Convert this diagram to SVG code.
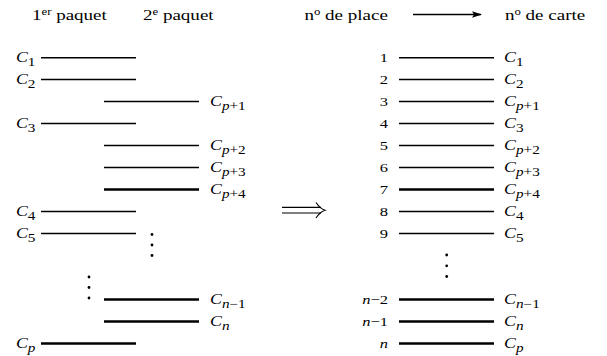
<svg xmlns="http://www.w3.org/2000/svg" width="607" height="356" viewBox="0 0 607 356">
<style>
text{font-family:"Liberation Serif","Times New Roman",serif;fill:#000}
.h{font-size:15px}
.sup{font-size:10px}
.c{font-size:14px;font-style:italic}
.sub{font-size:12px}
.i{font-style:italic}
.u{font-style:normal}
.num{font-size:13px;text-anchor:end}
.ln{stroke:#000;stroke-width:1.6}
.lk{stroke:#000;stroke-width:2.4}
.dot{fill:#000}
</style>
<defs>
<marker id="ah" markerWidth="10" markerHeight="8" refX="9" refY="4" orient="auto" markerUnits="userSpaceOnUse">
<path d="M0,0.8 L10,4 L0,7.2 L2,4 Z" fill="#000"/>
</marker>
</defs>
<rect width="607" height="356" fill="#fff"/>
<g id="headers" transform="scale(1.27,1)">
<text class="h" x="25.2" y="20">1<tspan class="sup" dy="-5">er</tspan><tspan dy="5"> paquet</tspan></text>
<text class="h" x="112.6" y="20">2<tspan class="sup" dy="-5">e</tspan><tspan dy="5"> paquet</tspan></text>
<text class="h" x="305.5" y="20" text-anchor="end">n<tspan class="sup" dy="-5">o</tspan><tspan dy="5"> de place</tspan></text>
<text class="h" x="397.6" y="20">n<tspan class="sup" dy="-5">o</tspan><tspan dy="5"> de carte</tspan></text>
</g>
<g id="connectors">
<line x1="413" y1="14.5" x2="481" y2="14.5" stroke="#000" stroke-width="1.3" marker-end="url(#ah)"/>
<line class="ln" x1="41" y1="57.7" x2="136" y2="57.7"/>
<line class="ln" x1="41" y1="79.5" x2="136" y2="79.5"/>
<line class="ln" x1="104" y1="101.5" x2="199" y2="101.5"/>
<line class="ln" x1="41" y1="123.5" x2="136" y2="123.5"/>
<line class="ln" x1="104" y1="145.5" x2="199" y2="145.5"/>
<line class="ln" x1="104" y1="167.5" x2="199" y2="167.5"/>
<line class="lk" x1="104" y1="189.5" x2="199" y2="189.5"/>
<line class="ln" x1="41" y1="211.5" x2="136" y2="211.5"/>
<line class="ln" x1="41" y1="233.5" x2="136" y2="233.5"/>
<line class="lk" x1="104" y1="299.5" x2="199" y2="299.5"/>
<line class="lk" x1="104" y1="321.5" x2="199" y2="321.5"/>
<line class="lk" x1="41" y1="343.5" x2="136" y2="343.5"/>
<line class="ln" x1="399" y1="57.7" x2="494" y2="57.7"/>
<line class="ln" x1="399" y1="79.5" x2="494" y2="79.5"/>
<line class="ln" x1="399" y1="101.5" x2="494" y2="101.5"/>
<line class="ln" x1="399" y1="123.5" x2="494" y2="123.5"/>
<line class="ln" x1="399" y1="145.5" x2="494" y2="145.5"/>
<line class="ln" x1="399" y1="167.5" x2="494" y2="167.5"/>
<line class="lk" x1="399" y1="189.5" x2="494" y2="189.5"/>
<line class="ln" x1="399" y1="211.5" x2="494" y2="211.5"/>
<line class="ln" x1="399" y1="233.5" x2="494" y2="233.5"/>
<line class="lk" x1="399" y1="299.5" x2="494" y2="299.5"/>
<line class="lk" x1="399" y1="321.5" x2="494" y2="321.5"/>
<line class="lk" x1="399" y1="343.5" x2="494" y2="343.5"/>
</g>
<g id="left-labels" transform="scale(1.27,1)">
<text class="c" x="12.6" y="62.3">C<tspan class="sub u" dy="4">1</tspan></text>
<text class="c" x="12.6" y="84.1">C<tspan class="sub u" dy="4">2</tspan></text>
<text class="c" x="165.4" y="106.1">C<tspan class="sub" dy="4">p</tspan><tspan class="sub u">+1</tspan></text>
<text class="c" x="12.6" y="128.1">C<tspan class="sub u" dy="4">3</tspan></text>
<text class="c" x="165.4" y="150.1">C<tspan class="sub" dy="4">p</tspan><tspan class="sub u">+2</tspan></text>
<text class="c" x="165.4" y="172.1">C<tspan class="sub" dy="4">p</tspan><tspan class="sub u">+3</tspan></text>
<text class="c" x="165.4" y="194.1">C<tspan class="sub" dy="4">p</tspan><tspan class="sub u">+4</tspan></text>
<text class="c" x="12.6" y="216.1">C<tspan class="sub u" dy="4">4</tspan></text>
<text class="c" x="12.6" y="238.1">C<tspan class="sub u" dy="4">5</tspan></text>
<text class="c" x="165.4" y="304.1">C<tspan class="sub" dy="4">n</tspan><tspan class="sub u">−1</tspan></text>
<text class="c" x="165.4" y="326.1">C<tspan class="sub" dy="4">n</tspan></text>
<text class="c" x="12.6" y="348.1">C<tspan class="sub" dy="4">p</tspan></text>
</g>
<g id="left-dots">
<circle class="dot" cx="152" cy="234.5" r="1.4"/>
<circle class="dot" cx="152" cy="245" r="1.4"/>
<circle class="dot" cx="152" cy="255.5" r="1.4"/>
<circle class="dot" cx="89" cy="277" r="1.4"/>
<circle class="dot" cx="89" cy="287.5" r="1.4"/>
<circle class="dot" cx="89" cy="298" r="1.4"/>
</g>
<g id="implies">
<path d="M282,207.3 H321 M282,213 H321" stroke="#000" stroke-width="1.2" fill="none"/>
<path d="M316,202.5 Q320,208.5 325,210.2 Q320,211.8 316,218" stroke="#000" stroke-width="1.2" fill="none"/>
</g>
<g id="right-numbers" transform="scale(1.27,1)">
<text class="num" x="305.5" y="62.2">1</text>
<text class="num" x="305.5" y="84">2</text>
<text class="num" x="305.5" y="106">3</text>
<text class="num" x="305.5" y="128">4</text>
<text class="num" x="305.5" y="150">5</text>
<text class="num" x="305.5" y="172">6</text>
<text class="num" x="305.5" y="194">7</text>
<text class="num" x="305.5" y="216">8</text>
<text class="num" x="305.5" y="238">9</text>
<text class="num" x="305.5" y="304"><tspan class="i">n</tspan>−2</text>
<text class="num" x="305.5" y="326"><tspan class="i">n</tspan>−1</text>
<text class="num i" x="305.5" y="348">n</text>
</g>
<g id="right-labels" transform="scale(1.27,1)">
<text class="c" x="396.9" y="62.3">C<tspan class="sub u" dy="4">1</tspan></text>
<text class="c" x="396.9" y="84.1">C<tspan class="sub u" dy="4">2</tspan></text>
<text class="c" x="396.9" y="106.1">C<tspan class="sub" dy="4">p</tspan><tspan class="sub u">+1</tspan></text>
<text class="c" x="396.9" y="128.1">C<tspan class="sub u" dy="4">3</tspan></text>
<text class="c" x="396.9" y="150.1">C<tspan class="sub" dy="4">p</tspan><tspan class="sub u">+2</tspan></text>
<text class="c" x="396.9" y="172.1">C<tspan class="sub" dy="4">p</tspan><tspan class="sub u">+3</tspan></text>
<text class="c" x="396.9" y="194.1">C<tspan class="sub" dy="4">p</tspan><tspan class="sub u">+4</tspan></text>
<text class="c" x="396.9" y="216.1">C<tspan class="sub u" dy="4">4</tspan></text>
<text class="c" x="396.9" y="238.1">C<tspan class="sub u" dy="4">5</tspan></text>
<text class="c" x="396.9" y="304.1">C<tspan class="sub" dy="4">n</tspan><tspan class="sub u">−1</tspan></text>
<text class="c" x="396.9" y="326.1">C<tspan class="sub" dy="4">n</tspan></text>
<text class="c" x="396.9" y="348.1">C<tspan class="sub" dy="4">p</tspan></text>
</g>
<g id="right-dots">
<circle class="dot" cx="446.7" cy="255" r="1.4"/>
<circle class="dot" cx="446.7" cy="265.8" r="1.4"/>
<circle class="dot" cx="446.7" cy="276.5" r="1.4"/>
</g>
</svg>
